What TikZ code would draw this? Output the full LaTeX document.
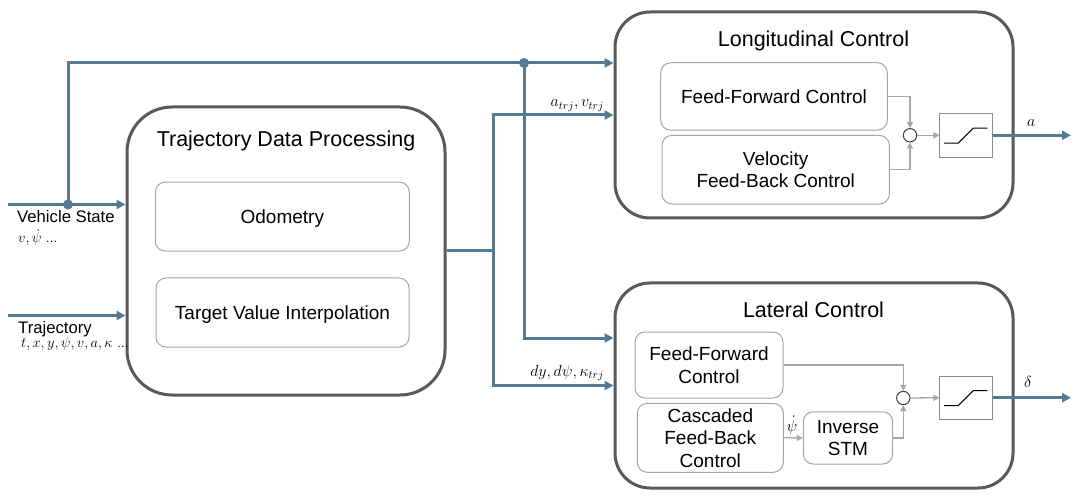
\RequirePackage{fix-cm}
\documentclass[tikz,border=0pt]{standalone}
\usepackage{fontspec}
\setmainfont{Liberation Sans}
\usetikzlibrary{arrows.meta,calc}
\definecolor{flow}{RGB}{84,122,146}
\definecolor{cborder}{RGB}{89,89,89}
\definecolor{iborder}{RGB}{166,166,166}
\definecolor{sig}{RGB}{166,166,166}
\definecolor{satcol}{RGB}{140,140,140}
\definecolor{sumcol}{RGB}{60,60,60}
\newcommand\boxfont{\fontsize{19}{22.5}\selectfont}
\newcommand\titlefont{\fontsize{21.5}{25}\selectfont}
\newcommand\lblfont{\fontsize{16.7}{19}\selectfont}
\newcommand\mathlblfont{\fontsize{16}{19}\selectfont}
\newcommand\smallmathfont{\fontsize{14.5}{17}\selectfont}
\begin{document}
\begin{tikzpicture}[x=1pt,y=-1pt,
  container/.style={draw=cborder, line width=3pt, rounded corners=35pt, inner sep=0pt},
  ibox/.style={draw=iborder, line width=1pt, rounded corners=10pt, align=center, font=\boxfont, text depth=0pt, inner sep=0pt},
  sumnode/.style={circle, draw=sumcol, line width=1pt, minimum size=13.4pt, inner sep=0pt},
  satbox/.style={draw=satcol, line width=1pt, inner sep=0pt, minimum width=52.7pt},
  flowline/.style={draw=flow, line width=3pt},
  flowarrow/.style={flowline, -{Triangle[length=9pt,width=9pt]}},
  sigarrow/.style={draw=sig, line width=1.3pt, -{Triangle[length=6pt,width=6pt]}},
  titletext/.style={font=\titlefont, anchor=base, inner sep=0pt},
  lbl/.style={font=\lblfont, inner sep=0pt},
  mlbl/.style={font=\mathlblfont, inner sep=0pt},
  smlbl/.style={font=\smallmathfont, inner sep=0pt},
]
\useasboundingbox (0,0) rectangle (1086,502);
\fill[white] (0,0) rectangle (1086,502);

% containers
\node[container, rounded corners=45pt, minimum width=318pt, minimum height=288pt] (tdp) at (286,251) {};
\node[container, minimum width=398pt, minimum height=206pt] (lon) at (814,115) {};
\node[container, minimum width=398pt, minimum height=205pt] (lat) at (814,385.5) {};

\node[titletext] (tdpt) at (286,146.7) {Trajectory Data Processing};
\node[titletext] (lont) at (813.5,46.7) {Longitudinal Control};
\node[titletext] (latt) at (813.5,317) {Lateral Control};

% inner boxes
\node[ibox, minimum width=254pt, minimum height=69pt] (odo) at (282.3,216.6) {Odometry};
\node[ibox, minimum width=253pt, minimum height=69pt] (tvi) at (282.5,312.5) {Target Value Interpolation};
\node[ibox, minimum width=226.6pt, minimum height=67.3pt] (ff1) at (774,96.4) {Feed-Forward Control};
\node[ibox, minimum width=227.3pt, minimum height=68.7pt] (fb1) at (775.7,169.7) {Velocity\\Feed-Back Control};
\node[ibox, minimum width=148pt, minimum height=66pt] (ff2) at (709,365) {Feed-Forward\\Control};
\node[ibox, minimum width=146pt, minimum height=69pt] (fb2) at (710.3,437.8) {Cascaded\\Feed-Back\\Control};
\node[ibox, minimum width=89.4pt, minimum height=52.3pt] (stm) at (848,437.9) {Inverse\\STM};

% sum points and saturations
\node[sumnode] (sum1) at (910,135.3) {};
\node[sumnode] (sum2) at (903.3,398) {};
\node[satbox, minimum height=44pt] (sat1) at (966.3,135.3) {};
\node[satbox, minimum height=43.3pt] (sat2) at (966.3,397.7) {};
\draw[black, line width=1pt, shift={(sat1.center)}] (-22.3,7.8) -- (-8,7.8) -- (7,-7.2) -- (21,-7.2);
\draw[black, line width=1pt, shift={(sat2.center)}] (-22.3,7.8) -- (-8,7.8) -- (7,-7.2) -- (21,-7.2);

% gray signal connectors
\draw[sigarrow] (ff1.east) -| (sum1.north);
\draw[sigarrow] (fb1.east) -| (sum1.south);
\draw[sigarrow] (sum1.east) -- (sat1.west);
\draw[sigarrow] (ff2.east) -| (sum2.north);
\draw[sigarrow] (fb2.east) -- (stm.west);
\draw[sigarrow] (stm.east) -| (sum2.south);
\draw[sigarrow] (sum2.east) -- (sat2.west);
\node[mlbl, anchor=base] (psid) at (792,431) {$\dot{\psi}$};

% blue flow connectors
\coordinate (vsin) at (8,204.5);
\coordinate (trin) at (8,315.5);
\coordinate (j1) at (68,204.5);
\coordinate (j2) at (524,63);
\coordinate (j3) at (524,338);
\coordinate (br) at (493.5,251);
\coordinate (aout) at (1071,135.3);
\coordinate (dout) at (1071,397.7);

\draw[flowarrow] (vsin) -- (vsin -| tdp.west);
\draw[flowarrow] (trin) -- (trin -| tdp.west);
\draw[flowarrow] (j1) |- (lon.west |- j2);
\draw[flowarrow] (j2) -- (j3) -- (j3 -| lat.west);
\draw[flowline] (tdp.east) -- (br);
\draw[flowarrow] (br) |- (lon.west);
\draw[flowarrow] (br) |- (lat.west);
\draw[flowarrow] (sat1.east) -- (aout);
\draw[flowarrow] (sat2.east) -- (dout);
\fill[flow] (j1) circle (5pt);
\fill[flow] (j2) circle (5pt);

% labels
\node[lbl, anchor=base west] (lvs) at (17,222.7) {Vehicle State};
\node[smlbl, anchor=base west] (lvsm) at (18,243) {$v, \dot{\psi}$ {\fontsize{12}{14}\selectfont …}};
\node[lbl, anchor=base west] (ltr) at (18,334) {Trajectory};
\node[smlbl, anchor=base west] (ltrm) at (21,347.5) {$t, x, y, \psi, v, a, \kappa$ {\fontsize{12}{14}\selectfont …}};
\node[mlbl, anchor=base east] (latrj) at (604,106.7) {$a_{trj}, v_{trj}$};
\node[mlbl, anchor=base east] (ldtrj) at (604,376) {$dy, d\psi, \kappa_{trj}$};
\node[mlbl, anchor=base west] (la) at (1027,126.7) {$a$};
\node[mlbl, anchor=base west] (ld) at (1024,387) {$\delta$};
\end{tikzpicture}
\end{document}
